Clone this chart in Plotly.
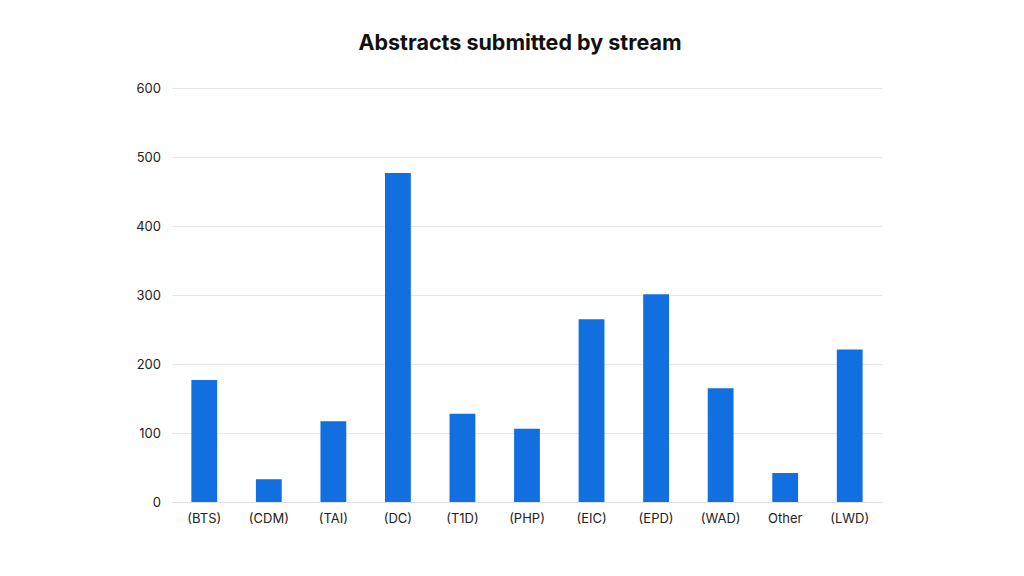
import plotly.graph_objects as go

categories = ["(BTS)", "(CDM)", "(TAI)", "(DC)", "(T1D)", "(PHP)", "(EIC)", "(EPD)", "(WAD)", "Other", "(LWD)"]
values = [177, 33, 117, 477, 128, 106, 265, 301, 165, 42, 221]
y_ticks = [0, 100, 200, 300, 400, 500, 600]

fig = go.Figure(go.Bar(x=categories, y=values, marker=dict(color="#116FE0", line=dict(width=0))))

fig.update_layout(
    width=1024, height=576,
    margin=dict(l=164, r=150, t=78, b=82),
    paper_bgcolor="white", plot_bgcolor="white",
    font=dict(family="Inter, Lato, sans-serif", size=13, color="#222"),
    title=dict(text="<b>Abstracts submitted by stream</b>", x=0.5, xanchor="center", y=0.94, yanchor="middle",
               font=dict(size=21.5, color="#111")),
    bargap=0.6,
    showlegend=False,
)
fig.update_xaxes(showgrid=False, showline=True, linecolor="#e0e0e0", linewidth=1, ticks="",
                 ticklabelstandoff=4, tickfont=dict(size=13))
fig.update_yaxes(range=[0, 603], tickvals=y_ticks, showgrid=True, gridcolor="#e6e6e6", gridwidth=1,
                 zeroline=False, ticks="", ticklabelstandoff=10, tickfont=dict(size=13))

fig.write_html("out.html")
